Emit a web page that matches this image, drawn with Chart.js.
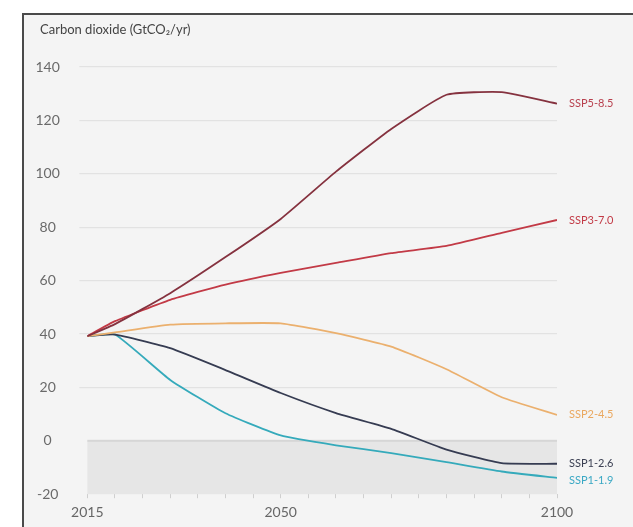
<!DOCTYPE html>
<html>
<head>
<meta charset="utf-8">
<script src="https://cdn.jsdelivr.net/npm/chart.js@4/dist/chart.umd.min.js"></script>
<style>
  html, body { margin: 0; padding: 0; background: #fff; overflow: hidden; }
</style>
</head>
<body>
<canvas id="myChart" width="633" height="527"></canvas>
<script>
// emissions pathways, GtCO2 per year
var years = [2015, 2020, 2030, 2040, 2050, 2060, 2070, 2080, 2090, 2100];
var ssp585 = [39.2, 43.7, 55.3, 68.8, 83.1, 100.8, 116.8, 129.6, 130.6, 126.3];
var ssp370 = [39.2, 44.8, 52.8, 58.5, 62.9, 66.6, 70.3, 73.0, 77.9, 82.7];
var ssp245 = [39.2, 40.6, 43.5, 44.0, 44.0, 40.3, 35.3, 26.8, 16.3, 9.7];
var ssp126 = [39.2, 39.8, 34.7, 26.5, 17.9, 10.4, 4.5, -3.3, -8.4, -8.6];
var ssp119 = [39.2, 39.8, 22.8, 10.3, 2.0, -1.7, -4.6, -8.0, -11.5, -13.9];

var names = ['SSP5-8.5', 'SSP3-7.0', 'SSP2-4.5', 'SSP1-2.6', 'SSP1-1.9'];
var colors = ['#85323f', '#c23a46', '#ebb06e', '#363c52', '#35aabb'];
var labelColors = ['#b8404e', '#c23a46', '#eaa860', '#3a3f52', '#3aa8c4'];
var xLabels = [2015, 2050, 2100];

function pts(vals) {
  return vals.map(function (v, i) { return { x: years[i], y: v }; });
}

var series = [ssp585, ssp370, ssp245, ssp126, ssp119];

var data = {
  datasets: series.map(function (s, i) {
    return {
      label: names[i],
      data: pts(s),
      borderColor: colors[i],
      borderWidth: 1.8,
      pointRadius: 0,
      tension: 0.15,
      fill: false
    };
  })
};

// panel background with the dark left/top edge
var panel = {
  id: 'panel',
  beforeDraw: function (chart) {
    var c = chart.ctx;
    c.save();
    c.fillStyle = '#f4f4f4';
    c.fillRect(22, 13, chart.width - 22, chart.height - 13);
    c.fillStyle = '#4a4a4a';
    c.fillRect(22, 13, 2, chart.height - 13);
    c.fillRect(22, 13, chart.width - 22, 2);
    c.restore();
  }
};

// grey band under zero
var belowZero = {
  id: 'belowZero',
  beforeDatasetsDraw: function (chart) {
    var c = chart.ctx, a = chart.chartArea, y = chart.scales.y;
    var top = y.getPixelForValue(0), bot = y.getPixelForValue(-20);
    c.save();
    c.fillStyle = '#e6e6e6';
    c.fillRect(a.left, top, a.right - a.left, bot - top);
    c.fillStyle = '#d6d6d6';
    c.fillRect(a.left, top - 1, a.right - a.left, 2);
    c.restore();
  }
};

// axis heading, top left of the panel
var heading = {
  id: 'heading',
  afterDraw: function (chart) {
    var c = chart.ctx;
    c.save();
    c.font = '13px Lato';
    c.fillStyle = '#444';
    c.textBaseline = 'middle';
    c.fillText('Carbon dioxide (GtCO₂/yr)', 40, 30);
    c.restore();
  }
};

// scenario names at the end of each line
var endLabels = {
  id: 'endLabels',
  afterDatasetsDraw: function (chart) {
    var c = chart.ctx;
    c.save();
    c.font = '11px Lato';
    c.textBaseline = 'middle';
    var prev = -100;
    chart.data.datasets.forEach(function (ds, i) {
      var meta = chart.getDatasetMeta(i);
      var p = meta.data[meta.data.length - 1];
      var y = Math.max(p.y, prev + 17);
      prev = y;
      c.fillStyle = labelColors[i];
      c.fillText(ds.label, p.x + 12, y);
    });
    c.restore();
  }
};

var options = {
  responsive: false,
  animation: false,
  layout: { padding: { left: 16, right: 76, top: 67, bottom: 0 } },
  plugins: {
    legend: { display: false },
    tooltip: { enabled: false },
    title: { display: false }
  },
  scales: {
    x: {
      type: 'linear',
      min: 2015,
      max: 2100,
      afterBuildTicks: function (axis) {
        var t = [];
        for (var yr = 2015; yr <= 2100; yr += 5) t.push({ value: yr });
        axis.ticks = t;
      },
      border: { display: false },
      grid: { drawOnChartArea: false, tickLength: 4, color: '#cfcfcf' },
      ticks: {
        autoSkip: false,
        maxRotation: 0,
        padding: 6,
        color: '#666',
        font: { family: 'Lato', size: 14 },
        callback: function (v) { return xLabels.indexOf(v) >= 0 ? String(v) : ''; }
      }
    },
    y: {
      min: -20,
      max: 140,
      border: { display: false },
      grid: {
        tickLength: 8,
        color: function (ctx) { return ctx.tick && ctx.tick.value <= 0 ? 'rgba(0,0,0,0)' : '#e2e2e2'; },
        lineWidth: 1.2
      },
      ticks: {
        stepSize: 20,
        crossAlign: 'center',
        padding: 19.5,
        color: '#6a6a6a',
        font: { family: 'Lato', size: 14 }
      }
    }
  }
};

var ctx = document.getElementById('myChart').getContext('2d');
var myChart = new Chart(ctx, {
  type: 'line',
  data: data,
  options: options,
  plugins: [panel, belowZero, endLabels, heading]
});
</script>
</body>
</html>
